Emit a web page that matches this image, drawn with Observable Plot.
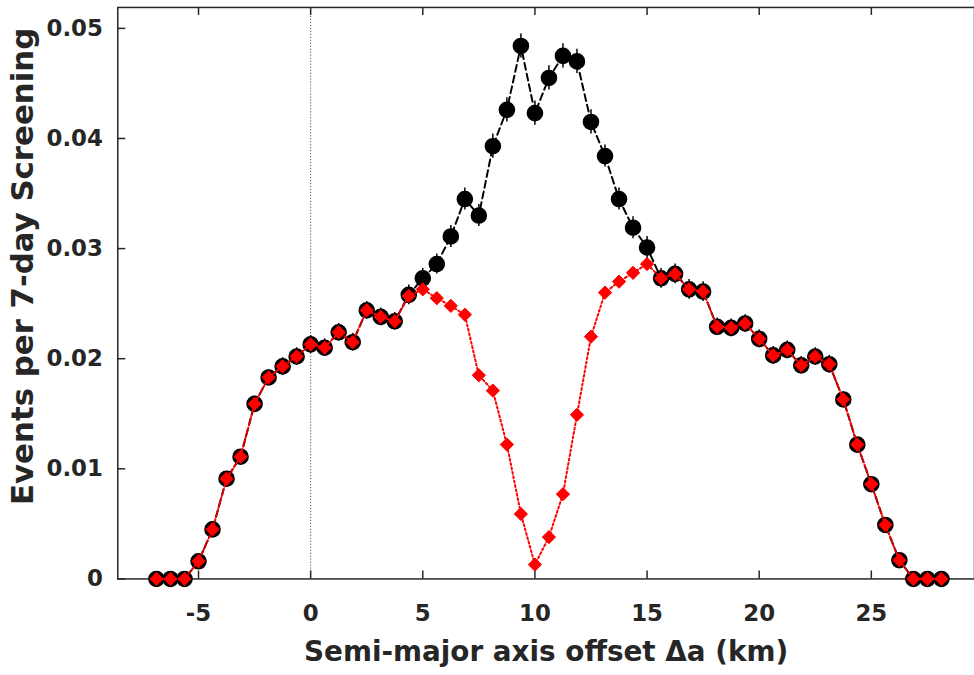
<!DOCTYPE html>
<html><head><meta charset="utf-8">
<script src="https://cdn.jsdelivr.net/npm/d3@7"></script>
<script src="https://cdn.jsdelivr.net/npm/@observablehq/plot@0.6"></script>
<style>
html,body{margin:0;padding:0;background:#fff;overflow:hidden;}
#chart svg{display:block;}
</style></head><body><div id="chart"></div>
<script>
// Semi-major axis offsets (km)
const offsets = [-6.875,-6.25,-5.625,-5,-4.375,-3.75,-3.125,-2.5,-1.875,-1.25,-0.625,0,
  0.625,1.25,1.875,2.5,3.125,3.75,4.375,5,5.625,6.25,6.875,7.5,8.125,8.75,9.375,10,
  10.625,11.25,11.875,12.5,13.125,13.75,14.375,15,15.625,16.25,16.875,17.5,18.125,18.75,
  19.375,20,20.625,21.25,21.875,22.5,23.125,23.75,24.375,25,25.625,26.25,26.875,27.5,28.125];
// Black series (circles, dashed)
const blackEvents = [0,0,0,0.0016,0.0045,0.0091,0.0111,0.0159,0.0183,0.0193,0.0202,0.0213,
  0.0210,0.0224,0.0215,0.0244,0.0238,0.0234,0.0258,0.0273,0.0286,0.0311,0.0345,0.0330,0.0393,0.0426,0.0484,0.0423,
  0.0455,0.0475,0.0470,0.0415,0.0384,0.0345,0.0319,0.0301,0.0273,0.0277,0.0263,0.0261,0.0229,0.0228,
  0.0232,0.0218,0.0203,0.0208,0.0194,0.0202,0.0195,0.0163,0.0122,0.0086,0.0049,0.0017,0,0,0];
// Black series error bars (half-length)
const blackErr = [0,0,0,0.0003,0.0004,0.0006,0.0006,0.0007,0.0007,0.0008,0.0008,0.0008,
  0.0008,0.0008,0.0008,0.0008,0.0008,0.0008,0.0009,0.0009,0.0009,0.0010,0.0010,0.0010,0.0011,0.0011,0.0011,0.0011,
  0.0011,0.0011,0.0011,0.0011,0.0010,0.0010,0.0010,0.0010,0.0009,0.0009,0.0009,0.0009,0.0008,0.0008,
  0.0008,0.0008,0.0008,0.0008,0.0008,0.0008,0.0008,0.0007,0.0006,0.0005,0.0004,0.0002,0,0,0];
// Red series (diamonds, dotted)
const redEvents = [0,0,0,0.0016,0.0045,0.0091,0.0111,0.0159,0.0183,0.0193,0.0202,0.0213,
  0.0210,0.0224,0.0215,0.0244,0.0238,0.0234,0.0257,0.0263,0.0255,0.0248,0.0240,0.0185,0.0171,0.0122,0.0059,0.0013,
  0.0038,0.0077,0.0149,0.0220,0.0260,0.0270,0.0278,0.0286,0.0273,0.0277,0.0263,0.0261,0.0229,0.0228,
  0.0232,0.0218,0.0203,0.0208,0.0194,0.0202,0.0195,0.0163,0.0122,0.0086,0.0049,0.0017,0,0,0];
const xTicks = [-5,0,5,10,15,20,25];
const yTicks = [0,0.01,0.02,0.03,0.04,0.05];
const yTickLabels = ["0","0.01","0.02","0.03","0.04","0.05"];
const xTitle = "Semi-major axis offset Δa (km)";
const yTitle = "Events per 7-day Screening";
const zeroLine = [0];

const black = offsets.map((x,i)=>({x, y: blackEvents[i], e: blackErr[i]}));
const red = offsets.map((x,i)=>({x, y: redEvents[i]}));

const W=980, H=675, mL=118, mR=0, mT=7, mB=93;
const pw = W-mL-mR, ph = H-mT-mB;
const axisColor = "#262626";
const chart = Plot.plot({
  width: W, height: H, marginLeft: mL, marginRight: mR, marginTop: mT, marginBottom: mB,
  style: {fontFamily: "'DejaVu Sans', sans-serif", fontWeight: "bold", fontSize: "23px", color: axisColor, background: "#fff", overflow: "visible"},
  x: {domain: [-8.6, 29.6]},
  y: {domain: [0, 0.0519]},
  marks: [
    Plot.ruleX(zeroLine, {stroke: "#555", strokeWidth: 1, strokeDasharray: "1.2,1.8"}),
    Plot.axisX({ticks: xTicks, tickSize: 0, tickPadding: 26, tickFormat: d => String(d), label: null}),
    Plot.axisY({ticks: yTicks, tickSize: 0, tickPadding: 15, tickFormat: d => yTickLabels[yTicks.indexOf(d)], label: null}),
    Plot.tickX(xTicks, {x: d=>d, stroke: axisColor, strokeWidth: 1.5, insetTop: ph-8}),
    Plot.tickX(xTicks, {x: d=>d, stroke: axisColor, strokeWidth: 1.5, insetBottom: ph-8}),
    Plot.tickY(yTicks, {y: d=>d, stroke: axisColor, strokeWidth: 1.5, insetRight: pw-8}),
    Plot.frame({stroke: axisColor, strokeWidth: 1.5}),
    Plot.line(black, {x:"x", y:"y", stroke:"#000", strokeWidth: 2, strokeDasharray: "7,4"}),
    Plot.ruleX(black, {x:"x", y1: d=>d.y-d.e, y2: d=>d.y+d.e, stroke:"#000", strokeWidth: 1.5}),
    Plot.dot(black, {x:"x", y:"y", r: 7.6, fill:"#000", stroke:"#000", strokeWidth: 1.5}),
    Plot.line(red, {x:"x", y:"y", stroke:"#ff0000", strokeWidth: 2, strokeDasharray: "2,2.5"}),
    Plot.dot(red, {x:"x", y:"y", r: 6, symbol: "diamond2", fill: "#ff0000", stroke: "#ff0000", strokeWidth: 1}),
    Plot.text([xTitle], {text: d=>d, frameAnchor: "bottom", dy: 74, lineAnchor: "middle", textAnchor: "middle", fontSize: 28, fontWeight: "bold", fill: axisColor}),
    Plot.text([yTitle], {text: d=>d, frameAnchor: "left", dx: -95, dy: -27, rotate: -90, lineAnchor: "middle", textAnchor: "middle", fontSize: 31, fontWeight: "bold", fill: axisColor})
  ]
});
document.getElementById("chart").appendChild(chart);
</script></body></html>
